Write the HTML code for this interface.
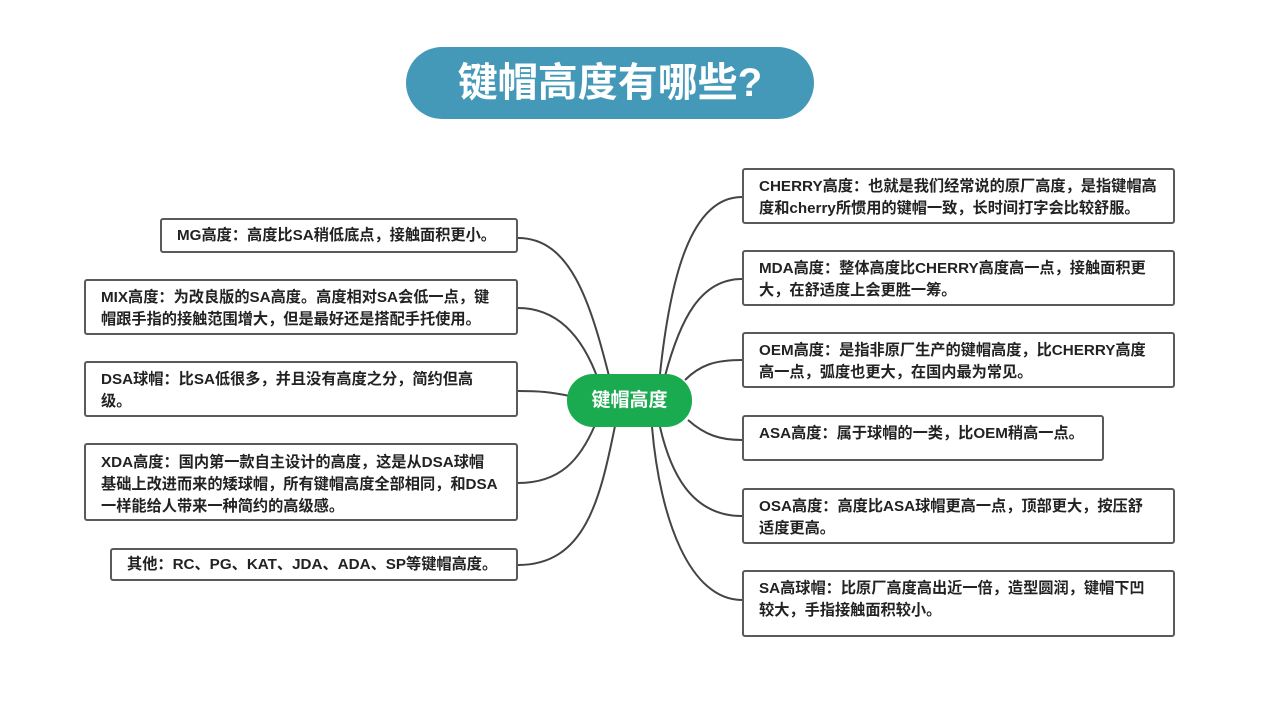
<!DOCTYPE html>
<html><head><meta charset="utf-8"><style>
body{margin:0;width:1280px;height:718px;background:#fff;position:relative;overflow:hidden;font-family:"Liberation Sans","Noto Sans CJK SC",sans-serif;}
.b{position:absolute;box-sizing:border-box;border:2px solid #5a5a5a;border-radius:3px;background:#fff;padding:8px 0 0 15px;font-size:15.2px;font-weight:bold;line-height:22px;color:#222;white-space:nowrap;}
.pill{position:absolute;color:#fff;font-weight:bold;text-align:center;}
svg{position:absolute;left:0;top:0}
</style></head><body>
<svg width="1280" height="718" fill="none" stroke="#444" stroke-width="2">
<path d="M610 380 C590 300,570 238,518 238"/>
<path d="M600 385 C585 340,560 308,518 308"/>
<path d="M570 396 C550 392,540 391,518 391"/>
<path d="M595 425 C580 460,560 483,518 483"/>
<path d="M615 426 C600 500,585 565,518 565"/>
<path d="M660 374 C670 280,690 197,742 197"/>
<path d="M665 376 C680 320,700 279,742 279"/>
<path d="M685 380 C700 365,715 360,742 360"/>
<path d="M688 420 C705 435,720 440,742 440"/>
<path d="M660 427 C670 470,690 516,742 516"/>
<path d="M652 427 C660 520,690 600,742 600"/>
</svg>
<div class="pill" style="left:406px;top:47px;width:408px;height:72px;border-radius:36px;background:#4599b8;font-size:40px;line-height:72px;">键帽高度有哪些?</div>
<div class="pill" style="left:567px;top:374px;width:125px;height:53px;border-radius:26px;background:#1aaa50;font-size:19px;line-height:53px;">键帽高度</div>

<div class="b" style="left:160px;top:218px;width:358px;height:35px;padding-top:5px">MG高度：高度比SA稍低底点，接触面积更小。</div>
<div class="b" style="left:84px;top:279px;width:434px;height:56px;padding-top:6px">MIX高度：为改良版的SA高度。高度相对SA会低一点，键<br>帽跟手指的接触范围增大，但是最好还是搭配手托使用。</div>
<div class="b" style="left:84px;top:361px;width:434px;height:56px;padding-top:6px">DSA球帽：比SA低很多，并且没有高度之分，简约但高<br>级。</div>
<div class="b" style="left:84px;top:443px;width:434px;height:78px;padding-top:7px">XDA高度：国内第一款自主设计的高度，这是从DSA球帽<br>基础上改进而来的矮球帽，所有键帽高度全部相同，和DSA<br>一样能给人带来一种简约的高级感。</div>
<div class="b" style="left:110px;top:548px;width:408px;height:33px;padding-top:4px">其他：RC、PG、KAT、JDA、ADA、SP等键帽高度。</div>

<div class="b" style="left:742px;top:168px;width:433px;height:56px;padding-top:6px">CHERRY高度：也就是我们经常说的原厂高度，是指键帽高<br>度和cherry所惯用的键帽一致，长时间打字会比较舒服。</div>
<div class="b" style="left:742px;top:250px;width:433px;height:56px;padding-top:6px">MDA高度：整体高度比CHERRY高度高一点，接触面积更<br>大，在舒适度上会更胜一筹。</div>
<div class="b" style="left:742px;top:332px;width:433px;height:56px;padding-top:6px">OEM高度：是指非原厂生产的键帽高度，比CHERRY高度<br>高一点，弧度也更大，在国内最为常见。</div>
<div class="b" style="left:742px;top:415px;width:362px;height:46px;padding-top:6px">ASA高度：属于球帽的一类，比OEM稍高一点。</div>
<div class="b" style="left:742px;top:488px;width:433px;height:56px;padding-top:6px">OSA高度：高度比ASA球帽更高一点，顶部更大，按压舒<br>适度更高。</div>
<div class="b" style="left:742px;top:570px;width:433px;height:67px;padding-top:6px">SA高球帽：比原厂高度高出近一倍，造型圆润，键帽下凹<br>较大，手指接触面积较小。</div>
</body></html>
